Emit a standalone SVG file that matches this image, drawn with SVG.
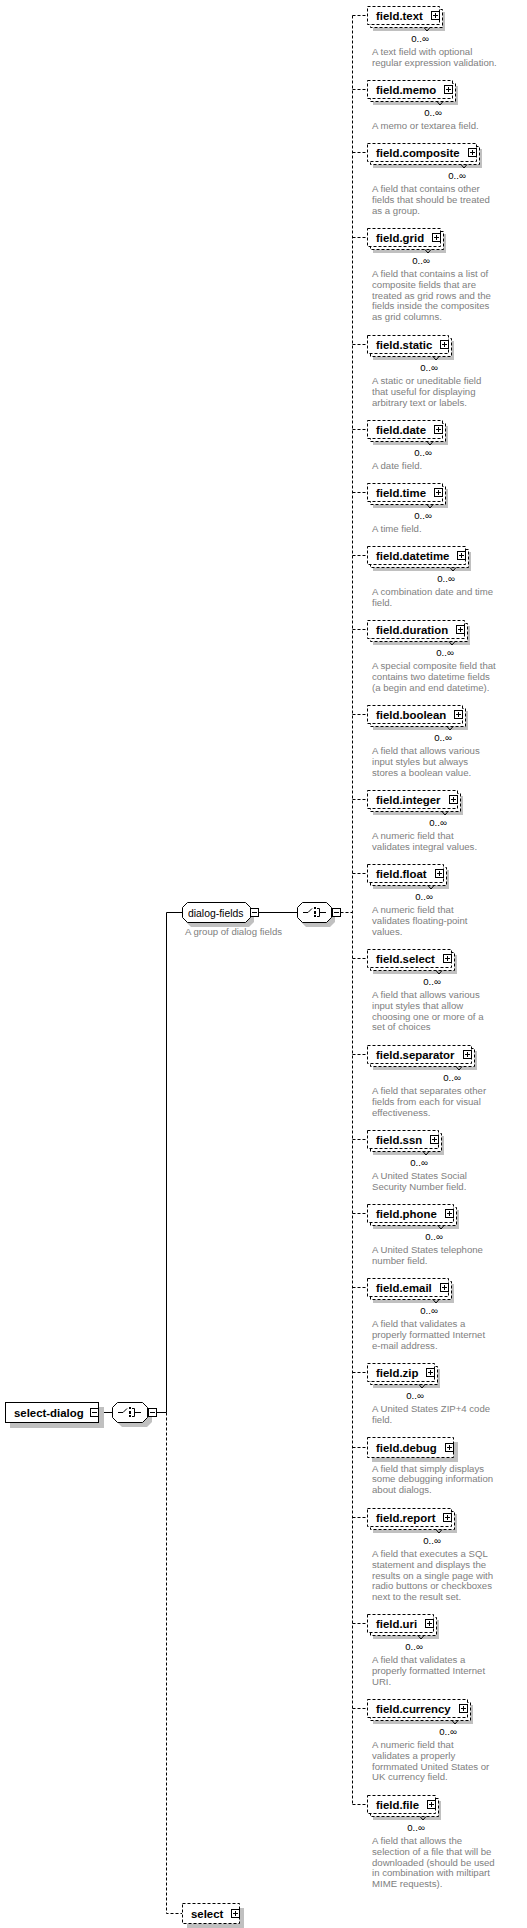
<svg xmlns="http://www.w3.org/2000/svg" width="527" height="1928" viewBox="0 0 527 1928">
<style>
.sh{fill:#c0c0c0}
.fb{fill:#fff;stroke:#000;stroke-width:1;stroke-dasharray:3 2}
.sb{fill:#fff;stroke:#000;stroke-width:1}
.lbl{font-family:"Liberation Sans",Arial,sans-serif;font-weight:bold;font-size:11.4px;fill:#000}
.glbl{font-family:"Liberation Sans",Arial,sans-serif;font-size:10.4px;fill:#000}
.occ{font-family:"Liberation Sans",Arial,sans-serif;font-size:9.6px;fill:#000;text-anchor:middle}
.desc{font-family:"Liberation Sans",Arial,sans-serif;font-size:9.6px;fill:#808080}
.v{fill:none;stroke:#000;stroke-width:1}
.cs{fill:none;stroke:#000;stroke-width:1}
.cd{fill:none;stroke:#000;stroke-width:1;stroke-dasharray:3 2}
</style>
<defs>
<g id="plus"><rect x="0.5" y="0.5" width="8" height="8" fill="#fff" stroke="#000"/><path d="M2,4.5H7M4.5,2V7" stroke="#000" fill="none"/></g>
<g id="minus"><rect x="0.5" y="0.5" width="8" height="8" fill="#fff" stroke="#000"/><path d="M2,4.5H7" stroke="#000" fill="none"/></g>
<g id="seqicon" fill="none" stroke="#000"><path d="M5,10.5H10L14,6.5"/><path d="M19,6.5H21.5V14.5H19M21.5,10.5H28"/><rect x="16" y="5" width="2" height="2" fill="#000" stroke="none"/><rect x="16" y="9" width="2" height="3" fill="#000" stroke="none"/><rect x="16" y="13" width="2" height="2" fill="#000" stroke="none"/></g>
</defs>
<rect width="527" height="1928" fill="#fff"/>

<g id="connectors">
<path class="cs" d="M98.5,1412.5H112.5M156.5,1412.5H166.5M166.5,912.5V1412.5M166.5,912.5H182.5M259,912.5H297.5"/>
<path class="cd" d="M166.5,1412.5V1913.5H182M340.5,912.5H352.5M352.5,15.5V1804.5"/>
<path class="cd" d="M352.5,15.5H367M352.5,89.5H367M352.5,152.5H367M352.5,237.5H367M352.5,344.5H367M352.5,429.5H367M352.5,492.5H367M352.5,555.5H367M352.5,629.5H367M352.5,714.5H367M352.5,799.5H367M352.5,873.5H367M352.5,958.5H367M352.5,1054.5H367M352.5,1139.5H367M352.5,1213.5H367M352.5,1287.5H367M352.5,1372.5H367M352.5,1447.5H367M352.5,1517.5H367M352.5,1623.5H367M352.5,1708.5H367M352.5,1804.5H367"/>
</g>

<g id="select-dialog">
<rect class="sh" x="10" y="1407" width="94" height="21"/>
<rect class="sb" x="5.5" y="1402.5" width="93" height="20"/>
<text class="lbl" x="14" y="1417">select-dialog</text>
<use href="#minus" x="90" y="1408"/>
</g>

<g id="select-dialog-sequence">
<polygon class="sh" points="122,1407 147,1407 152,1412 152,1422 147,1427 122,1427 117,1422 117,1412"/>
<polygon class="sb" points="117.5,1402.5 142.5,1402.5 147.5,1407.5 147.5,1417.5 142.5,1422.5 117.5,1422.5 112.5,1417.5 112.5,1407.5"/>
<use href="#seqicon" x="113" y="1402"/>
<use href="#minus" x="148" y="1408"/>
</g>

<g id="dialog-fields">
<polygon class="sh" points="191,907 249,907 254,912 254,922 249,927 191,927 186,922 186,912"/>
<polygon class="sb" points="187.5,902.5 245.5,902.5 250.5,907.5 250.5,917.5 245.5,922.5 187.5,922.5 182.5,917.5 182.5,907.5"/>
<text class="glbl" x="188" y="916.5">dialog-fields</text>
<use href="#minus" x="250" y="908"/>
<text class="desc" x="185" y="934.5">A group of dialog fields</text>
</g>

<g id="dialog-fields-sequence">
<polygon class="sh" points="306,907 330,907 335,912 335,922 330,927 306,927 301,922 301,912"/>
<polygon class="sb" points="302.5,902.5 326.5,902.5 331.5,907.5 331.5,917.5 326.5,922.5 302.5,922.5 297.5,917.5 297.5,907.5"/>
<use href="#seqicon" x="298" y="902"/>
<use href="#minus" x="332" y="908"/>
</g>

<g id="field-text" transform="translate(367,6)">
<rect class="sh" x="6" y="6" width="72" height="19"/><rect class="fb" x="3.5" y="3.5" width="72" height="18"/><rect class="fb" x="0.5" y="0.5" width="72" height="18"/>
<text class="lbl" x="9" y="13.5">field.text</text><use href="#plus" x="64" y="5"/>
<path class="v" d="M57,21.5l3,3.5l3,-3.5"/><text class="occ" x="53" y="36">0..∞</text>
<text class="desc" x="5" y="49">A text field with optional</text>
<text class="desc" x="5" y="59.8">regular expression validation.</text>
</g>

<g id="field-memo" transform="translate(367,80)">
<rect class="sh" x="6" y="6" width="85" height="19"/><rect class="fb" x="3.5" y="3.5" width="85" height="18"/><rect class="fb" x="0.5" y="0.5" width="85" height="18"/>
<text class="lbl" x="9" y="13.5">field.memo</text><use href="#plus" x="77" y="5"/>
<path class="v" d="M70,21.5l3,3.5l3,-3.5"/><text class="occ" x="66" y="36">0..∞</text>
<text class="desc" x="5" y="49">A memo or textarea field.</text>
</g>

<g id="field-composite" transform="translate(367,143)">
<rect class="sh" x="6" y="6" width="109" height="19"/><rect class="fb" x="3.5" y="3.5" width="109" height="18"/><rect class="fb" x="0.5" y="0.5" width="109" height="18"/>
<text class="lbl" x="9" y="13.5">field.composite</text><use href="#plus" x="101" y="5"/>
<path class="v" d="M94,21.5l3,3.5l3,-3.5"/><text class="occ" x="90" y="36">0..∞</text>
<text class="desc" x="5" y="49">A field that contains other</text>
<text class="desc" x="5" y="59.8">fields that should be treated</text>
<text class="desc" x="5" y="70.6">as a group.</text>
</g>

<g id="field-grid" transform="translate(367,228)">
<rect class="sh" x="6" y="6" width="73" height="19"/><rect class="fb" x="3.5" y="3.5" width="73" height="18"/><rect class="fb" x="0.5" y="0.5" width="73" height="18"/>
<text class="lbl" x="9" y="13.5">field.grid</text><use href="#plus" x="65" y="5"/>
<path class="v" d="M58,21.5l3,3.5l3,-3.5"/><text class="occ" x="54" y="36">0..∞</text>
<text class="desc" x="5" y="49">A field that contains a list of</text>
<text class="desc" x="5" y="59.8">composite fields that are</text>
<text class="desc" x="5" y="70.6">treated as grid rows and the</text>
<text class="desc" x="5" y="81.4">fields inside the composites</text>
<text class="desc" x="5" y="92.2">as grid columns.</text>
</g>

<g id="field-static" transform="translate(367,335)">
<rect class="sh" x="6" y="6" width="81" height="19"/><rect class="fb" x="3.5" y="3.5" width="81" height="18"/><rect class="fb" x="0.5" y="0.5" width="81" height="18"/>
<text class="lbl" x="9" y="13.5">field.static</text><use href="#plus" x="73" y="5"/>
<path class="v" d="M66,21.5l3,3.5l3,-3.5"/><text class="occ" x="62" y="36">0..∞</text>
<text class="desc" x="5" y="49">A static or uneditable field</text>
<text class="desc" x="5" y="59.8">that useful for displaying</text>
<text class="desc" x="5" y="70.6">arbitrary text or labels.</text>
</g>

<g id="field-date" transform="translate(367,420)">
<rect class="sh" x="6" y="6" width="75" height="19"/><rect class="fb" x="3.5" y="3.5" width="75" height="18"/><rect class="fb" x="0.5" y="0.5" width="75" height="18"/>
<text class="lbl" x="9" y="13.5">field.date</text><use href="#plus" x="67" y="5"/>
<path class="v" d="M60,21.5l3,3.5l3,-3.5"/><text class="occ" x="56" y="36">0..∞</text>
<text class="desc" x="5" y="49">A date field.</text>
</g>

<g id="field-time" transform="translate(367,483)">
<rect class="sh" x="6" y="6" width="75" height="19"/><rect class="fb" x="3.5" y="3.5" width="75" height="18"/><rect class="fb" x="0.5" y="0.5" width="75" height="18"/>
<text class="lbl" x="9" y="13.5">field.time</text><use href="#plus" x="67" y="5"/>
<path class="v" d="M60,21.5l3,3.5l3,-3.5"/><text class="occ" x="56" y="36">0..∞</text>
<text class="desc" x="5" y="49">A time field.</text>
</g>

<g id="field-datetime" transform="translate(367,546)">
<rect class="sh" x="6" y="6" width="98" height="19"/><rect class="fb" x="3.5" y="3.5" width="98" height="18"/><rect class="fb" x="0.5" y="0.5" width="98" height="18"/>
<text class="lbl" x="9" y="13.5">field.datetime</text><use href="#plus" x="90" y="5"/>
<path class="v" d="M83,21.5l3,3.5l3,-3.5"/><text class="occ" x="79" y="36">0..∞</text>
<text class="desc" x="5" y="49">A combination date and time</text>
<text class="desc" x="5" y="59.8">field.</text>
</g>

<g id="field-duration" transform="translate(367,620)">
<rect class="sh" x="6" y="6" width="97" height="19"/><rect class="fb" x="3.5" y="3.5" width="97" height="18"/><rect class="fb" x="0.5" y="0.5" width="97" height="18"/>
<text class="lbl" x="9" y="13.5">field.duration</text><use href="#plus" x="89" y="5"/>
<path class="v" d="M82,21.5l3,3.5l3,-3.5"/><text class="occ" x="78" y="36">0..∞</text>
<text class="desc" x="5" y="49">A special composite field that</text>
<text class="desc" x="5" y="59.8">contains two datetime fields</text>
<text class="desc" x="5" y="70.6">(a begin and end datetime).</text>
</g>

<g id="field-boolean" transform="translate(367,705)">
<rect class="sh" x="6" y="6" width="95" height="19"/><rect class="fb" x="3.5" y="3.5" width="95" height="18"/><rect class="fb" x="0.5" y="0.5" width="95" height="18"/>
<text class="lbl" x="9" y="13.5">field.boolean</text><use href="#plus" x="87" y="5"/>
<path class="v" d="M80,21.5l3,3.5l3,-3.5"/><text class="occ" x="76" y="36">0..∞</text>
<text class="desc" x="5" y="49">A field that allows various</text>
<text class="desc" x="5" y="59.8">input styles but always</text>
<text class="desc" x="5" y="70.6">stores a boolean value.</text>
</g>

<g id="field-integer" transform="translate(367,790)">
<rect class="sh" x="6" y="6" width="90" height="19"/><rect class="fb" x="3.5" y="3.5" width="90" height="18"/><rect class="fb" x="0.5" y="0.5" width="90" height="18"/>
<text class="lbl" x="9" y="13.5">field.integer</text><use href="#plus" x="82" y="5"/>
<path class="v" d="M75,21.5l3,3.5l3,-3.5"/><text class="occ" x="71" y="36">0..∞</text>
<text class="desc" x="5" y="49">A numeric field that</text>
<text class="desc" x="5" y="59.8">validates integral values.</text>
</g>

<g id="field-float" transform="translate(367,864)">
<rect class="sh" x="6" y="6" width="76" height="19"/><rect class="fb" x="3.5" y="3.5" width="76" height="18"/><rect class="fb" x="0.5" y="0.5" width="76" height="18"/>
<text class="lbl" x="9" y="13.5">field.float</text><use href="#plus" x="68" y="5"/>
<path class="v" d="M61,21.5l3,3.5l3,-3.5"/><text class="occ" x="57" y="36">0..∞</text>
<text class="desc" x="5" y="49">A numeric field that</text>
<text class="desc" x="5" y="59.8">validates floating-point</text>
<text class="desc" x="5" y="70.6">values.</text>
</g>

<g id="field-select" transform="translate(367,949)">
<rect class="sh" x="6" y="6" width="84" height="19"/><rect class="fb" x="3.5" y="3.5" width="84" height="18"/><rect class="fb" x="0.5" y="0.5" width="84" height="18"/>
<text class="lbl" x="9" y="13.5">field.select</text><use href="#plus" x="76" y="5"/>
<path class="v" d="M69,21.5l3,3.5l3,-3.5"/><text class="occ" x="65" y="36">0..∞</text>
<text class="desc" x="5" y="49">A field that allows various</text>
<text class="desc" x="5" y="59.8">input styles that allow</text>
<text class="desc" x="5" y="70.6">choosing one or more of a</text>
<text class="desc" x="5" y="81.4">set of choices</text>
</g>

<g id="field-separator" transform="translate(367,1045)">
<rect class="sh" x="6" y="6" width="104" height="19"/><rect class="fb" x="3.5" y="3.5" width="104" height="18"/><rect class="fb" x="0.5" y="0.5" width="104" height="18"/>
<text class="lbl" x="9" y="13.5">field.separator</text><use href="#plus" x="96" y="5"/>
<path class="v" d="M89,21.5l3,3.5l3,-3.5"/><text class="occ" x="85" y="36">0..∞</text>
<text class="desc" x="5" y="49">A field that separates other</text>
<text class="desc" x="5" y="59.8">fields from each for visual</text>
<text class="desc" x="5" y="70.6">effectiveness.</text>
</g>

<g id="field-ssn" transform="translate(367,1130)">
<rect class="sh" x="6" y="6" width="71" height="19"/><rect class="fb" x="3.5" y="3.5" width="71" height="18"/><rect class="fb" x="0.5" y="0.5" width="71" height="18"/>
<text class="lbl" x="9" y="13.5">field.ssn</text><use href="#plus" x="63" y="5"/>
<path class="v" d="M56,21.5l3,3.5l3,-3.5"/><text class="occ" x="52" y="36">0..∞</text>
<text class="desc" x="5" y="49">A United States Social</text>
<text class="desc" x="5" y="59.8">Security Number field.</text>
</g>

<g id="field-phone" transform="translate(367,1204)">
<rect class="sh" x="6" y="6" width="86" height="19"/><rect class="fb" x="3.5" y="3.5" width="86" height="18"/><rect class="fb" x="0.5" y="0.5" width="86" height="18"/>
<text class="lbl" x="9" y="13.5">field.phone</text><use href="#plus" x="78" y="5"/>
<path class="v" d="M71,21.5l3,3.5l3,-3.5"/><text class="occ" x="67" y="36">0..∞</text>
<text class="desc" x="5" y="49">A United States telephone</text>
<text class="desc" x="5" y="59.8">number field.</text>
</g>

<g id="field-email" transform="translate(367,1278)">
<rect class="sh" x="6" y="6" width="81" height="19"/><rect class="fb" x="3.5" y="3.5" width="81" height="18"/><rect class="fb" x="0.5" y="0.5" width="81" height="18"/>
<text class="lbl" x="9" y="13.5">field.email</text><use href="#plus" x="73" y="5"/>
<path class="v" d="M66,21.5l3,3.5l3,-3.5"/><text class="occ" x="62" y="36">0..∞</text>
<text class="desc" x="5" y="49">A field that validates a</text>
<text class="desc" x="5" y="59.8">properly formatted Internet</text>
<text class="desc" x="5" y="70.6">e-mail address.</text>
</g>

<g id="field-zip" transform="translate(367,1363)">
<rect class="sh" x="6" y="6" width="67" height="19"/><rect class="fb" x="3.5" y="3.5" width="67" height="18"/><rect class="fb" x="0.5" y="0.5" width="67" height="18"/>
<text class="lbl" x="9" y="13.5">field.zip</text><use href="#plus" x="59" y="5"/>
<path class="v" d="M52,21.5l3,3.5l3,-3.5"/><text class="occ" x="48" y="36">0..∞</text>
<text class="desc" x="5" y="49">A United States ZIP+4 code</text>
<text class="desc" x="5" y="59.8">field.</text>
</g>

<g id="field-debug" transform="translate(367,1437)">
<rect class="sh" x="5" y="5" width="86" height="20"/><rect class="fb" x="0.5" y="0.5" width="86" height="20"/>
<text class="lbl" x="9" y="14.5">field.debug</text><use href="#plus" x="78" y="6"/>
<text class="desc" x="5" y="34.5">A field that simply displays</text>
<text class="desc" x="5" y="45.3">some debugging information</text>
<text class="desc" x="5" y="56.1">about dialogs.</text>
</g>

<g id="field-report" transform="translate(367,1508)">
<rect class="sh" x="6" y="6" width="84" height="19"/><rect class="fb" x="3.5" y="3.5" width="84" height="18"/><rect class="fb" x="0.5" y="0.5" width="84" height="18"/>
<text class="lbl" x="9" y="13.5">field.report</text><use href="#plus" x="76" y="5"/>
<path class="v" d="M69,21.5l3,3.5l3,-3.5"/><text class="occ" x="65" y="36">0..∞</text>
<text class="desc" x="5" y="49">A field that executes a SQL</text>
<text class="desc" x="5" y="59.8">statement and displays the</text>
<text class="desc" x="5" y="70.6">results on a single page with</text>
<text class="desc" x="5" y="81.4">radio buttons or checkboxes</text>
<text class="desc" x="5" y="92.2">next to the result set.</text>
</g>

<g id="field-uri" transform="translate(367,1614)">
<rect class="sh" x="6" y="6" width="66" height="19"/><rect class="fb" x="3.5" y="3.5" width="66" height="18"/><rect class="fb" x="0.5" y="0.5" width="66" height="18"/>
<text class="lbl" x="9" y="13.5">field.uri</text><use href="#plus" x="58" y="5"/>
<path class="v" d="M51,21.5l3,3.5l3,-3.5"/><text class="occ" x="47" y="36">0..∞</text>
<text class="desc" x="5" y="49">A field that validates a</text>
<text class="desc" x="5" y="59.8">properly formatted Internet</text>
<text class="desc" x="5" y="70.6">URI.</text>
</g>

<g id="field-currency" transform="translate(367,1699)">
<rect class="sh" x="6" y="6" width="100" height="19"/><rect class="fb" x="3.5" y="3.5" width="100" height="18"/><rect class="fb" x="0.5" y="0.5" width="100" height="18"/>
<text class="lbl" x="9" y="13.5">field.currency</text><use href="#plus" x="92" y="5"/>
<path class="v" d="M85,21.5l3,3.5l3,-3.5"/><text class="occ" x="81" y="36">0..∞</text>
<text class="desc" x="5" y="49">A numeric field that</text>
<text class="desc" x="5" y="59.8">validates a properly</text>
<text class="desc" x="5" y="70.6">formmated United States or</text>
<text class="desc" x="5" y="81.4">UK currency field.</text>
</g>

<g id="field-file" transform="translate(367,1795)">
<rect class="sh" x="6" y="6" width="68" height="19"/><rect class="fb" x="3.5" y="3.5" width="68" height="18"/><rect class="fb" x="0.5" y="0.5" width="68" height="18"/>
<text class="lbl" x="9" y="13.5">field.file</text><use href="#plus" x="60" y="5"/>
<path class="v" d="M53,21.5l3,3.5l3,-3.5"/><text class="occ" x="49" y="36">0..∞</text>
<text class="desc" x="5" y="49">A field that allows the</text>
<text class="desc" x="5" y="59.8">selection of a file that will be</text>
<text class="desc" x="5" y="70.6">downloaded (should be used</text>
<text class="desc" x="5" y="81.4">in combination with miltipart</text>
<text class="desc" x="5" y="92.2">MIME requests).</text>
</g>

<g id="select" transform="translate(182,1903)">
<rect class="sh" x="5" y="5" width="57" height="20"/><rect class="fb" x="0.5" y="0.5" width="57" height="20"/>
<text class="lbl" x="9" y="14.5">select</text><use href="#plus" x="49" y="6"/>
</g>
</svg>
